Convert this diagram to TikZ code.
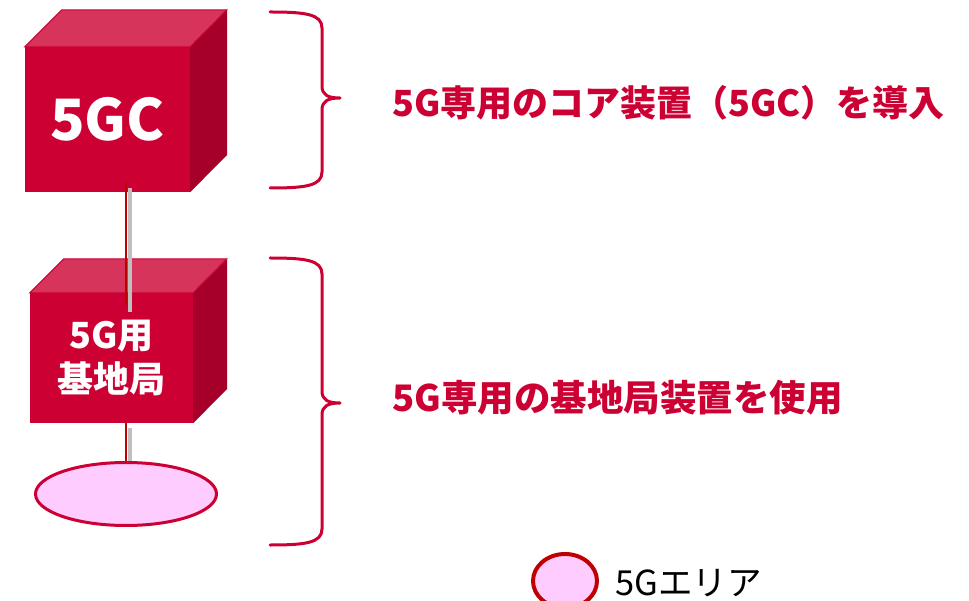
\documentclass[tikz,border=0pt]{standalone}
\usepackage{fontspec}
\newfontfamily\jp{Noto Sans CJK JP}
\usetikzlibrary{shapes.geometric}
\definecolor{crim}{HTML}{CC0033}
\definecolor{crimtop}{HTML}{D7345B}
\definecolor{crimside}{HTML}{A6002A}
\definecolor{darkred}{HTML}{C00000}
\definecolor{pinkfill}{HTML}{FFCCFF}
\definecolor{shadowgray}{HTML}{BFBFBF}
\tikzset{
  frontface/.style={rectangle, fill=crim, draw=none, inner sep=0pt, text=white},
  topface/.style={fill=crimtop, draw=crim, line width=1pt, line join=miter},
  sideface/.style={fill=crimside, draw=none},
  brace/.style={draw=crim, line width=3pt, line cap=round, line join=round},
  redline/.style={draw=darkred, line width=2.6pt},
  grayline/.style={draw=shadowgray, line width=3.6pt},
  area/.style={ellipse, draw=crim, fill=pinkfill, line width=3pt, inner sep=0pt},
  lbl/.style={anchor=west, text=crim, inner sep=0pt, font=\jp\bfseries\fontsize{36.5}{40}\selectfont},
}
\begin{document}
\begin{tikzpicture}[x=1pt,y=-1pt]
\useasboundingbox (0,0) rectangle (969,601);
% cube 1
\node[frontface, minimum width=165pt, minimum height=145pt,
      font=\jp\bfseries\fontsize{57}{60}\selectfont] (gc) at (107.5,119.5) {5GC};
\fill[sideface] (gc.north east) -- ++(37,-37) -- ++(0,145) -- (gc.south east) -- cycle;
\filldraw[topface] (gc.north west) -- ++(37,-37) -- ++(165,0) -- (gc.north east) -- cycle;
% cube 2
\node[frontface, minimum width=163pt, minimum height=130pt, align=center,
      font=\jp\bfseries\fontsize{36}{44}\selectfont] (bs) at (111.5,358) {5G用\\基地局};
\fill[sideface] (bs.north east) -- ++(34,-34) -- ++(0,130) -- (bs.south east) -- cycle;
\filldraw[topface] (bs.north west) -- ++(34,-34) -- ++(163,0) -- (bs.north east) -- cycle;
% connectors
\coordinate (g1a) at (130,188); \coordinate (g1b) at (130,312);
\coordinate (r1a) at (126,183); \coordinate (r1b) at (126,305);
\coordinate (g2a) at (130,428); \coordinate (g2b) at (130,466);
\coordinate (r2a) at (126,423); \coordinate (r2b) at (126,466);
\draw[grayline] (g1a) -- (g1b);
\draw[redline] (r1a) -- (r1b);
\draw[grayline] (g2a) -- (g2b);
\draw[redline] (r2a) -- (r2b);
% area ellipse
\node[area, minimum width=181pt, minimum height=63pt] (ar) at (126,494) {};
% braces
\draw[brace] (270,12) .. controls (305,12) and (322,14) .. (322,28) -- (322,86)
  .. controls (322,95) and (328,98) .. (340,98)
  .. controls (328,98) and (322,101) .. (322,110) -- (322,172)
  .. controls (322,186) and (305,188) .. (270,188);
\draw[brace] (270,258) .. controls (305,258) and (322,260) .. (322,274) -- (322,391)
  .. controls (322,400) and (328,403) .. (340,403)
  .. controls (328,403) and (322,406) .. (322,415) -- (322,529)
  .. controls (322,543) and (305,545) .. (270,545);
% labels
\node[lbl, font=\jp\bfseries\fontsize{36}{40}\selectfont] (t1) at (392,103) {5G専用のコア装置（5GC）を導入};
\node[lbl] (t2) at (392,398) {5G専用の基地局装置を使用};
% legend
\node[ellipse, draw=darkred, fill=pinkfill, line width=4pt, inner sep=0pt,
      minimum width=64pt, minimum height=54pt] (lg) at (565,581) {};
\node[anchor=west, inner sep=0pt, font=\jp\fontsize{34.5}{40}\selectfont] (lt) at (615,583) {5Gエリア};
\end{tikzpicture}
\end{document}
